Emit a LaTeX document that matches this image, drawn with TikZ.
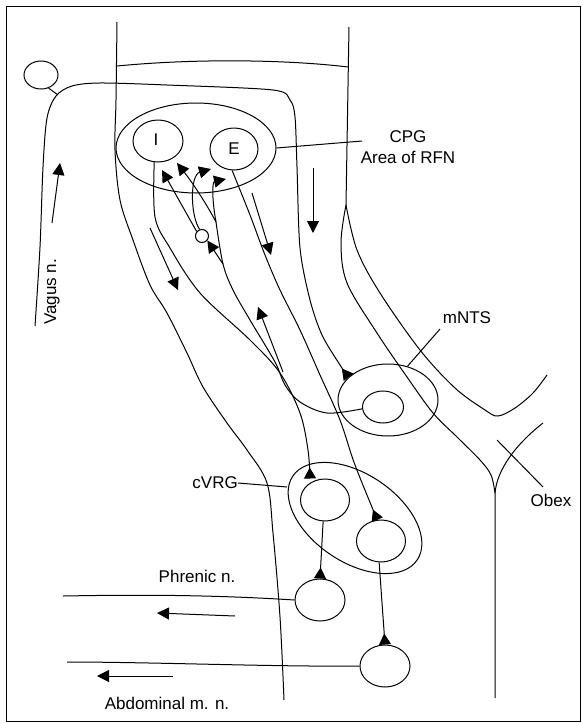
\documentclass[tikz,border=0pt]{standalone}
\usepackage{fontspec}
\setmainfont{Liberation Sans}
\usetikzlibrary{arrows.meta,shapes.geometric}
\tikzset{
  ln/.style={line width=1pt},
  flow/.style={-{Triangle[length=12pt,width=12pt]}, line width=1pt},
  tip/.style={-{Triangle[length=12pt,width=12pt]}, line width=1pt},
  syn/.style={-{Triangle[reversed,length=11pt,width=12pt]}, line width=1pt},
  cell/.style={draw, ellipse, line width=1pt, inner sep=0pt, minimum width=49pt, minimum height=42pt},
  nuc/.style={draw, ellipse, line width=1pt, inner sep=0pt},
  lab/.style={font=\fontsize{17}{21}\selectfont, inner sep=0pt},
}
\begin{document}
\begin{tikzpicture}[x=1pt,y=-1pt]
\useasboundingbox (0,0) rectangle (582,723);
\draw[line width=1pt] (6,6) rectangle (580,721);

% ===================== brainstem outline =====================
\draw[ln] plot[smooth, tension=0.55] coordinates {(117,22) (116,100) (115,150) (120,200) (133,240) (150,285) (167,313) (187,353) (203,387) (227,423) (247,450) (267,483) (273,533) (280,617) (284,700)};
\draw[ln] (117,66) .. controls (200,58) and (290,60) .. (348,67);
\draw[ln] (349,27) -- (346,205);
\draw[ln] plot[smooth, tension=0.55] coordinates {(346,205) (357,250) (380,293) (420,350) (455,388) (485,410) (498,416) (515,408) (533,393) (547,375)};
\draw[ln] plot[smooth, tension=0.55] coordinates {(346,205) (341,243) (347,283) (377,333) (407,377) (433,413) (457,437) (480,460) (491,475) (495,493)} -- (495,698);
\draw[ln] (495,493) .. controls (497,470) and (515,445) .. (543,423);

% ===================== nuclei and cells =====================
\node[nuc, minimum width=160pt, minimum height=90pt] (cpg) at (196,148) {};
\node[cell, minimum width=50pt] (I) at (158,141) {};
\node[lab] at (156,140) {I};
\node[cell, minimum width=48pt] (E) at (234,149) {};
\node[lab] at (234,149) {E};
\node[nuc, minimum width=13pt, minimum height=13pt] (inter) at (202,236) {};
\node[nuc, minimum width=100pt, minimum height=72pt] (mnts) at (388,400) {};
\node[cell, minimum width=41pt, minimum height=32pt] (mntsc) at (383,407) {};
\node[nuc, minimum width=150pt, minimum height=88pt, rotate=-34] (cvrg) at (355,518) {};
\node[cell] (cvrgI) at (325,500) {};
\node[cell] (cvrgE) at (381,541) {};
\node[cell, minimum width=50pt] (phr) at (320,600) {};
\node[cell, minimum width=50pt] (abd) at (385,666) {};
\node[nuc, minimum width=34pt, minimum height=28pt] (vag) at (41,75) {};

% ===================== vagal afferent =====================
\coordinate (vagend) at (35,326);
\draw[syn] plot[smooth, tension=0.5] coordinates {(vagend) (40,247) (43,167) (47,118) (56,96) (72,86) (100,83) (167,85) (273,90) (290,100) (295,117) (297,167) (300,248) (310,300) (322,335) (340,365) (mnts.150)};
\draw[ln] (vag.-60) -- (58,95);

% ===================== CPG outputs =====================
\draw[syn] plot[smooth, tension=0.55] coordinates {(I.-100) (155,217) (170,248) (200,293) (250,340) (280,373) (300,413) (308,450) (cvrgI.north -| 310,0)};
\draw[syn] plot[smooth, tension=0.55] coordinates {(E.-95) (250,215) (265,255) (280,290) (300,330) (320,375) (340,420) (355,465) (cvrgE.100)};
\draw[syn] (cvrgI.-95) -- (phr.north);
\draw[syn] (cvrgE.-95) -- (abd.north);

% ===================== mNTS to CPG =====================
\coordinate (fork) at (216,222);
\coordinate (branch) at (223,264);
\draw[ln] plot[smooth, tension=0.55] coordinates {(mntsc.185) (327,413) (300,402) (285,385) (275,362) (250,320) (233,290) (branch) (fork)};
\draw[tip] (fork) .. controls (206,203) and (192,182) .. (177,163);
\draw[tip] (fork) .. controls (212,200) and (212,182) .. (226,179);
\draw[tip] (branch) -- (inter.-40);
\draw[tip] (inter.110) .. controls (190,215) and (190,175) .. (211,169);
\draw[tip] (inter.140) -- (162,170);

% ===================== nerves =====================
\coordinate (phrend) at (63,596);
\coordinate (abdend) at (67,662);
\draw[ln] (phr.west) .. controls (200,594) and (120,595) .. (phrend);
\draw[ln] (abd.west) .. controls (280,667) and (150,662) .. (abdend);

% ===================== direction arrows =====================
\draw[flow] (52,223) -- (60,163);
\draw[flow] (313,168) -- (313,233);
\draw[flow] (150,228) -- (178,290);
\draw[flow] (252,193) -- (271,255);
\draw[flow] (283,372) -- (258,307);
\draw[flow] (235,616) -- (157,613);
\draw[flow] (173,676) -- (97,676);

% ===================== labels =====================
\node[lab, align=center] (cpglab) at (408,147) {CPG\\Area of RFN};
\draw[ln] (cpg.east) -- (362,141);
\node[lab] (mntslab) at (467,318) {mNTS};
\draw[ln] (440,329) -- (mnts.60);
\node[lab, anchor=east] (cvrglab) at (238,483) {cVRG};
\draw[ln] (cvrglab.east) -- (287,487);
\node[lab] (obexlab) at (551,500) {Obex};
\draw[ln] (497,440) -- (543,487);
\node[lab] (phrlab) at (197,576) {Phrenic n.};
\node[lab] (abdlab) at (167,703) {Abdominal m. n.};
\node[lab, rotate=90] (vaglab) at (52,292) {Vagus n.};
\end{tikzpicture}
\end{document}
